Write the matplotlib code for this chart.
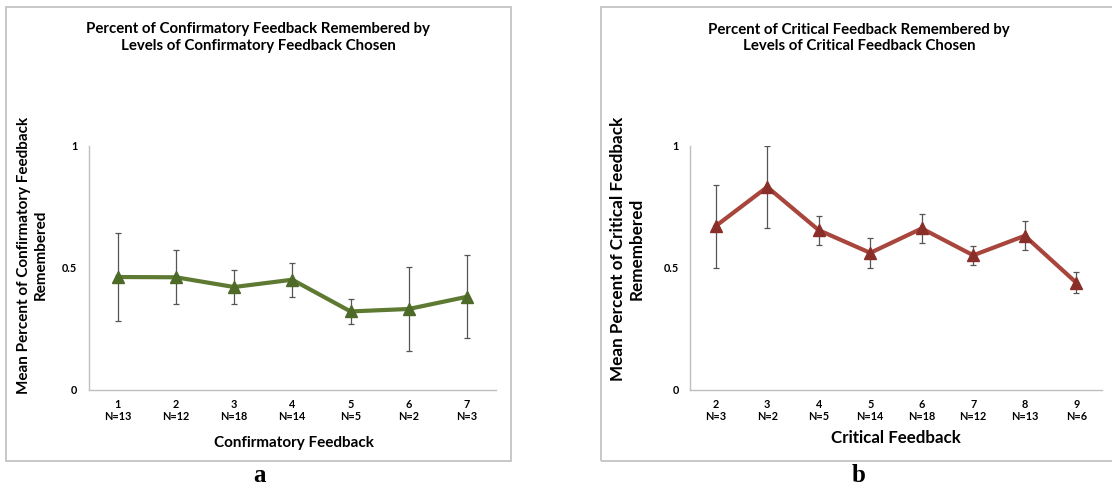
import matplotlib
matplotlib.use("Agg")
import matplotlib.pyplot as plt
from matplotlib.patches import Rectangle

# ---- data ----
conf_levels = ["1", "2", "3", "4", "5", "6", "7"]
conf_n = ["N=13", "N=12", "N=18", "N=14", "N=5", "N=2", "N=3"]
conf_mean = [0.463, 0.462, 0.422, 0.452, 0.322, 0.332, 0.382]
conf_err = [0.182, 0.110, 0.069, 0.069, 0.050, 0.172, 0.170]

crit_levels = ["2", "3", "4", "5", "6", "7", "8", "9"]
crit_n = ["N=3", "N=2", "N=5", "N=14", "N=18", "N=12", "N=13", "N=6"]
crit_mean = [0.672, 0.832, 0.655, 0.562, 0.662, 0.552, 0.632, 0.440]
crit_err = [0.170, 0.168, 0.060, 0.060, 0.060, 0.038, 0.060, 0.042]

W, H = 1112, 488
fig = plt.figure(figsize=(W / 100, H / 100), dpi=100)
fig.patch.set_facecolor("white")

FONT = "Lato"
frame_col = "#BFBFBF"

def px(x, y):
    return x / W, 1 - y / H

# panel frames
for (x0, x1) in [(6, 511), (601, 1120)]:
    fx0, fy1 = px(x0, 7)
    fx1, fy0 = px(x1, 461)
    fig.patches.append(Rectangle((fx0, fy0), fx1 - fx0, fy1 - fy0,
                                 transform=fig.transFigure, fill=False,
                                 edgecolor=frame_col, lw=1.2))

def make_panel(rect, levels, ns, mean, err, color, mcolor):
    ax = fig.add_axes(rect)
    xs = list(range(len(levels)))
    ax.errorbar(xs, mean, yerr=err, fmt="none", ecolor="#555555",
                elinewidth=0.9, capsize=2.5, capthick=0.9, zorder=2)
    ax.plot(xs, mean, color=color, lw=3, zorder=3, solid_joinstyle="miter")
    ax.plot(xs, mean, ls="none", marker="^", ms=8, color=mcolor,
            markeredgecolor=mcolor, zorder=4)
    ax.set_xlim(-0.5, len(levels) - 0.5)
    ax.set_ylim(0, 1)
    ax.set_yticks([0, 0.5, 1])
    ax.set_yticklabels(["0", "0.5", "1"])
    ax.set_xticks(xs)
    ax.set_xticklabels([f"{a}\n{b}" for a, b in zip(levels, ns)],
                       linespacing=1.15)
    for s in ["top", "right"]:
        ax.spines[s].set_visible(False)
    for s in ["left", "bottom"]:
        ax.spines[s].set_color(frame_col)
        ax.spines[s].set_linewidth(1.0)
    ax.tick_params(length=0, labelsize=7.8, pad=6.5)
    for lab in ax.get_xticklabels() + ax.get_yticklabels():
        lab.set_fontfamily(FONT)
        lab.set_fontweight("bold")
    ax.tick_params(axis="y", pad=8)
    return ax

l0, b0 = px(88.6, 390)
l1, t1 = px(496, 146)
make_panel([l0, b0, l1 - l0, t1 - b0], conf_levels, conf_n, conf_mean,
           conf_err, "#5E7A32", "#4E6A28")

r0, _ = px(690, 390)
r1, _ = px(1102, 146)
make_panel([r0, b0, r1 - r0, t1 - b0], crit_levels, crit_n, crit_mean,
           crit_err, "#A8453C", "#8A2E2A")

def ftext(x, y, s, **kw):
    fx, fy = px(x, y)
    fig.text(fx, fy, s, family=FONT, fontweight="bold", **kw)

# titles
ftext(258, 37.5, "Percent of Confirmatory Feedback Remembered by\nLevels of Confirmatory Feedback Chosen",
      ha="center", va="center", fontsize=10.8, linespacing=1.25)
ftext(859, 38, "Percent of Critical Feedback Remembered by\nLevels of Critical Feedback Chosen",
      ha="center", va="center", fontsize=10.8, linespacing=1.25)

# y labels
ftext(32.5, 255, "Mean Percent of Confirmatory Feedback\nRemembered",
      ha="center", va="center", rotation=90, fontsize=11, linespacing=1.25,
      multialignment="center")
ftext(627, 249, "Mean Percent of Critical Feedback\nRemembered",
      ha="center", va="center", rotation=90, fontsize=12.3, linespacing=1.2,
      multialignment="center")

# x labels
ftext(294, 443, "Confirmatory Feedback", ha="center", va="center", fontsize=11)
ftext(896, 438, "Critical Feedback", ha="center", va="center", fontsize=12.2)

# panel letters
for x, s in [(259, "a"), (859, "b")]:
    fx, fy = px(x, 476)
    fig.text(fx, fy, s, family="Liberation Serif", fontweight="bold",
             fontsize=18, ha="center", va="center")

fig.savefig("out.png", dpi=100, facecolor="white")
